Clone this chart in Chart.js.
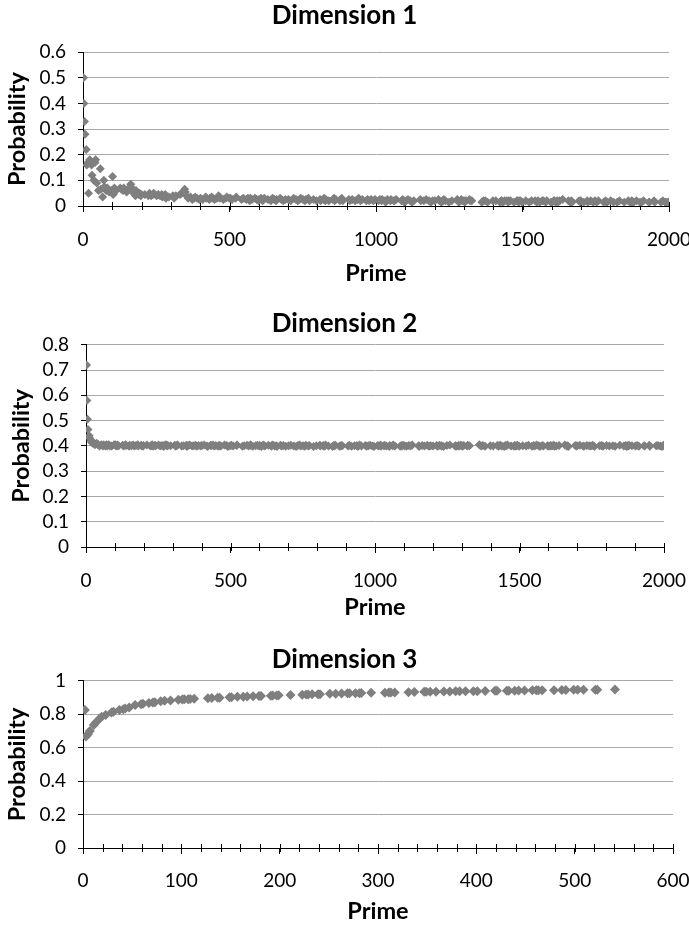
<!DOCTYPE html>
<html><head><meta charset="utf-8">
<script src="https://cdn.jsdelivr.net/npm/chart.js@4.4.0/dist/chart.umd.min.js"></script>
<style>
html,body{margin:0;padding:0;background:#fff;width:689px;height:928px;overflow:hidden}
.box{position:absolute;left:0;width:689px}
canvas{display:block}
</style></head><body>
<div class="box" style="top:0"><canvas id="c1" width="689" height="290"></canvas></div>
<div class="box" style="top:290px"><canvas id="c2" width="689" height="335"></canvas></div>
<div class="box" style="top:625px"><canvas id="c3" width="689" height="303"></canvas></div>
<script>
const primes = [
2,3,5,7,11,13,17,19,23,29,31,37,41,43,47,53,59,61,67,71,73,79,83,89,97,
101,103,107,109,113,127,131,137,139,149,151,157,163,167,173,179,181,191,193,197,199,
211,223,227,229,233,239,241,251,257,263,269,271,277,281,283,293,
307,311,313,317,331,337,347,349,353,359,367,373,379,383,389,397,
401,409,419,421,431,433,439,443,449,457,461,463,467,479,487,491,499,
503,509,521,523,541,547,557,563,569,571,577,587,593,599,
601,607,613,617,619,631,641,643,647,653,659,661,673,677,683,691,
701,709,719,727,733,739,743,751,757,761,769,773,787,797,
809,811,821,823,827,829,839,853,857,859,863,877,881,883,887,
907,911,919,929,937,941,947,953,967,971,977,983,991,997,
1009,1013,1019,1021,1031,1033,1039,1049,1051,1061,1063,1069,1087,1091,1093,1097,
1103,1109,1117,1123,1129,1151,1153,1163,1171,1181,1187,1193,
1201,1213,1217,1223,1229,1231,1237,1249,1259,1277,1279,1283,1289,1291,1297,
1301,1303,1307,1319,1321,1327,1361,1367,1373,1381,1399,
1409,1423,1427,1429,1433,1439,1447,1451,1453,1459,1471,1481,1483,1487,1489,1493,1499,
1511,1523,1531,1543,1549,1553,1559,1567,1571,1579,1583,1597,
1601,1607,1609,1613,1619,1621,1627,1637,1657,1663,1667,1669,1693,1697,1699,
1709,1721,1723,1733,1741,1747,1753,1759,1777,1783,1787,1789,
1801,1811,1823,1831,1847,1861,1867,1871,1873,1877,1879,1889,
1901,1907,1913,1931,1933,1949,1951,1973,1979,1987,1993,1997,1999
];

const dim1Prob = [
0.50,0.40,0.33,0.28,0.22,0.16,0.17,0.05,0.18,0.16,0.12,0.10,0.17,0.18,0.09,0.06,0.145,0.065,0.035,0.10,0.075,0.06,0.07,0.055,0.06,
0.115,0.045,0.07,0.065,0.06,0.07,0.065,0.06,0.07,0.055,0.06,0.07,0.085,0.07,0.05,0.04,0.06,0.045,0.05,0.04,0.045,
0.045,0.04,0.05,0.045,0.04,0.045,0.05,0.04,0.045,0.04,0.045,0.035,0.04,0.045,0.03,0.035,
0.04,0.03,0.035,0.04,0.045,0.05,0.065,0.055,0.04,0.03,0.035,0.025,0.03,0.035,0.03,0.025,
0.03,0.025,0.035,0.03,0.025,0.03,0.035,0.03,0.025,0.03,0.035,0.04,0.03,0.025,0.03,0.035,0.03,
0.03,0.025,0.03,0.035,0.025,0.03,0.025,0.03,0.02,0.03,0.025,0.03,0.025,0.02,
0.025,0.03,0.02,0.025,0.03,0.025,0.02,0.025,0.03,0.025,0.02,0.025,0.03,0.025,0.02,0.025,
0.025,0.02,0.03,0.025,0.02,0.025,0.03,0.025,0.02,0.025,0.03,0.02,0.025,0.02,
0.025,0.02,0.025,0.03,0.02,0.025,0.02,0.025,0.03,0.02,0.025,0.02,0.025,0.03,0.02,
0.025,0.02,0.025,0.02,0.025,0.03,0.02,0.025,0.02,0.025,0.02,0.025,0.02,0.025,
0.02,0.025,0.02,0.025,0.02,0.015,0.025,0.02,0.025,0.02,0.02,0.025,0.02,0.025,0.02,0.015,
0.02,0.025,0.02,0.015,0.02,0.025,0.02,0.02,0.025,0.02,0.015,0.02,
0.02,0.025,0.02,0.015,0.02,0.025,0.02,0.015,0.02,0.025,0.02,0.015,0.02,0.025,0.02,
0.02,0.015,0.02,0.025,0.02,0.02,0.015,0.02,0.02,0.015,0.02,
0.02,0.015,0.02,0.02,0.015,0.02,0.02,0.015,0.02,0.02,0.015,0.02,0.02,0.015,0.02,0.02,0.015,
0.02,0.015,0.02,0.02,0.015,0.02,0.015,0.02,0.02,0.015,0.02,0.015,
0.015,0.02,0.02,0.015,0.02,0.015,0.02,0.025,0.02,0.015,0.02,0.015,0.02,0.015,0.02,
0.015,0.02,0.015,0.02,0.015,0.02,0.015,0.02,0.015,0.02,0.015,0.015,
0.02,0.015,0.015,0.02,0.015,0.02,0.015,0.015,0.02,0.015,0.015,0.02,
0.015,0.015,0.02,0.015,0.015,0.02,0.015,0.015,0.02,0.015,0.015,0.015,0.015
];

const dim2Prob = [
0.72,0.58,0.505,0.465,0.44,0.43,0.42,0.415,0.41,0.41,0.405,0.41,0.405,0.405,0.40,0.405,0.40,0.405,0.40,0.405,0.40,0.405,0.40,0.40,0.405,
0.405,0.402,0.40,0.404,0.401,0.403,0.40,0.405,0.402,0.399,0.403,0.401,0.404,0.40,0.402,0.405,0.40,0.403,0.401,0.399,0.402,
0.404,0.40,0.402,0.405,0.399,0.403,0.401,0.404,0.40,0.402,0.398,0.403,0.405,0.40,0.402,0.401,
0.403,0.399,0.402,0.404,0.40,0.401,0.403,0.398,0.402,0.404,0.40,0.401,0.403,0.399,0.402,0.40,
0.402,0.404,0.40,0.398,0.403,0.401,0.404,0.40,0.402,0.399,0.403,0.401,0.40,0.404,0.402,0.398,0.401,
0.403,0.40,0.402,0.404,0.399,0.401,0.403,0.40,0.405,0.402,0.399,0.401,0.403,0.40,
0.402,0.398,0.404,0.401,0.40,0.403,0.399,0.402,0.404,0.40,0.401,0.398,0.403,0.40,0.402,0.399,
0.401,0.403,0.40,0.398,0.402,0.404,0.40,0.401,0.399,0.403,0.40,0.402,0.398,0.401,
0.403,0.40,0.402,0.399,0.401,0.404,0.40,0.398,0.402,0.401,0.403,0.399,0.40,0.402,0.401,
0.40,0.403,0.399,0.401,0.402,0.398,0.404,0.40,0.402,0.399,0.401,0.403,0.40,0.398,
0.402,0.40,0.404,0.399,0.401,0.403,0.40,0.398,0.402,0.401,0.404,0.40,0.399,0.402,0.40,0.403,
0.401,0.399,0.402,0.40,0.404,0.401,0.398,0.402,0.40,0.403,0.399,0.401,
0.40,0.402,0.399,0.403,0.401,0.40,0.398,0.402,0.404,0.40,0.401,0.399,0.402,0.40,0.403,
0.401,0.399,0.402,0.40,0.403,0.401,0.405,0.40,0.402,0.399,0.401,
0.40,0.402,0.399,0.401,0.403,0.40,0.398,0.402,0.401,0.404,0.40,0.399,0.402,0.40,0.401,0.403,0.399,
0.401,0.40,0.403,0.399,0.402,0.40,0.404,0.401,0.398,0.402,0.40,0.401,
0.399,0.402,0.40,0.401,0.403,0.399,0.40,0.402,0.404,0.40,0.401,0.398,0.402,0.40,0.401,
0.403,0.40,0.399,0.402,0.401,0.40,0.403,0.398,0.401,0.402,0.40,0.399,
0.402,0.40,0.401,0.399,0.403,0.40,0.402,0.398,0.401,0.40,0.403,0.401,
0.40,0.402,0.399,0.401,0.40,0.403,0.399,0.401,0.402,0.40,0.398,0.401,0.403
];

// Dimension 3 uses the first 100 primes (2 .. 541)
const dim3Prob = [
0.826,0.667,0.68,0.70,0.735,0.75,0.775,0.785,0.795,0.81,0.815,0.825,0.83,0.835,0.84,0.855,0.86,0.862,0.867,0.87,0.872,0.878,0.88,0.882,0.886,
0.888,0.889,0.89,0.891,0.892,0.896,0.897,0.898,0.899,0.902,0.902,0.904,0.905,0.906,0.907,0.909,0.909,0.911,0.912,0.912,0.913,
0.915,0.917,0.918,0.918,0.919,0.92,0.92,0.922,0.923,0.924,0.925,0.925,0.926,0.926,0.927,0.928,
0.929,0.93,0.93,0.93,0.932,0.933,0.934,0.934,0.934,0.935,0.936,0.936,0.937,0.937,0.937,0.938,
0.938,0.939,0.94,0.94,0.941,0.941,0.941,0.942,0.942,0.943,0.943,0.943,0.944,0.944,0.945,0.945,0.946,
0.946,0.946,0.947,0.947,0.948
];

const chartTitles = ['Dimension 1', 'Dimension 2', 'Dimension 3'];
const xAxisLabel = 'Prime';
const yAxisLabel = 'Probability';

const FONT = 'Lato, "Open Sans", sans-serif';
const MARK = '#7f7f7f';
const fmt = v => String(Number(Number(v).toFixed(3)));

const minorTicks = {
  id: 'minorTicks',
  beforeDatasetsDraw(chart, args, opts) {
    const xs = chart.scales.x, ctx = chart.ctx, y0 = Math.round(chart.chartArea.bottom);
    ctx.save();
    ctx.strokeStyle = '#000'; ctx.lineWidth = 1; ctx.beginPath();
    for (let v = 0; v <= xs.max + 1e-9; v += opts.step) {
      const px = Math.round(xs.getPixelForValue(v)) + 0.5;
      ctx.moveTo(px, y0 - 4); ctx.lineTo(px, y0 + 4);
    }
    ctx.stroke(); ctx.restore();
  }
};

function makeChart(id, xs, ys, c) {
  const n = Math.min(xs.length, ys.length);
  const pts = [];
  for (let i = 0; i < n; i++) pts.push({x: xs[i], y: ys[i]});
  return new Chart(document.getElementById(id), {
    type: 'scatter',
    data: {datasets: [{data: pts, pointStyle: 'rectRot', pointRadius: c.r, pointHoverRadius: c.r,
      pointBackgroundColor: MARK, pointBorderColor: MARK, pointBorderWidth: 0}]},
    options: {
      responsive: false, animation: false, events: [],
      layout: {autoPadding: false, padding: {left: c.side, top: 0, right: c.side, bottom: 0}},
      plugins: {
        legend: {display: false}, tooltip: {enabled: false},
        minorTicks: {step: c.xMinor},
        title: {display: true, text: c.title, color: '#000',
          font: {family: FONT, size: 26, weight: 'bold'},
          padding: {top: c.titleTop, bottom: c.titleBottom}}
      },
      scales: {
        x: {
          type: 'linear', min: 0, max: c.xMax,
          afterFit(s) { s.height = c.xH; s.paddingLeft = 0; s.paddingRight = 0; },
          ticks: {stepSize: c.xMajor, color: '#000', font: {family: FONT, size: 19},
            padding: c.xTickPad, maxRotation: 0, autoSkip: false, callback: fmt},
          grid: {drawOnChartArea: false, drawTicks: true, tickLength: 6, tickColor: '#000', tickWidth: 1},
          border: {color: '#000', width: 1},
          title: {display: true, text: xAxisLabel, color: '#000',
            font: {family: FONT, size: 23.5, weight: 'bold'}, padding: {top: 0, bottom: c.xTitlePad}}
        },
        y: {
          min: 0, max: c.yMax,
          afterFit(s) { s.width = c.left - c.side; s.paddingTop = 0; s.paddingBottom = 0; },
          ticks: {stepSize: c.yStep, color: '#000', font: {family: FONT, size: 19}, padding: 12,
            autoSkip: false, callback: fmt},
          grid: {color: '#a9a9a9', lineWidth: 1, drawTicks: true, tickLength: 5, tickColor: '#000'},
          border: {color: '#000', width: 1},
          title: {display: true, text: yAxisLabel, color: '#000',
            font: {family: FONT, size: 23.5, weight: 'bold'}, padding: {top: c.yTitleX - c.side - 14.1, bottom: 0}}
        }
      }
    },
    plugins: [minorTicks]
  });
}

makeChart('c1', primes, dim1Prob, {title: chartTitles[0], r: 4.5, side: 20, titleTop: 0, titleBottom: 21,
  xMax: 2000, xMajor: 500, xMinor: 100, xH: 84, xTickPad: 16, xTitlePad: 2,
  yMax: 0.6, yStep: 0.1, left: 83, yTitleX: 17.5});
makeChart('c2', primes, dim2Prob, {title: chartTitles[1], r: 4.5, side: 25, titleTop: 17.8, titleBottom: 5.8,
  xMax: 2000, xMajor: 500, xMinor: 100, xH: 78, xTickPad: 16, xTitlePad: 3,
  yMax: 0.8, yStep: 0.1, left: 86, yTitleX: 21});
makeChart('c3', primes.slice(0, dim3Prob.length), dim3Prob, {title: chartTitles[2], r: 5, side: 16, titleTop: 19.3, titleBottom: 5.3,
  xMax: 600, xMajor: 100, xMinor: 20, xH: 80, xTickPad: 15, xTitlePad: 2,
  yMax: 1, yStep: 0.2, left: 83, yTitleX: 17});
</script>
</body></html>
